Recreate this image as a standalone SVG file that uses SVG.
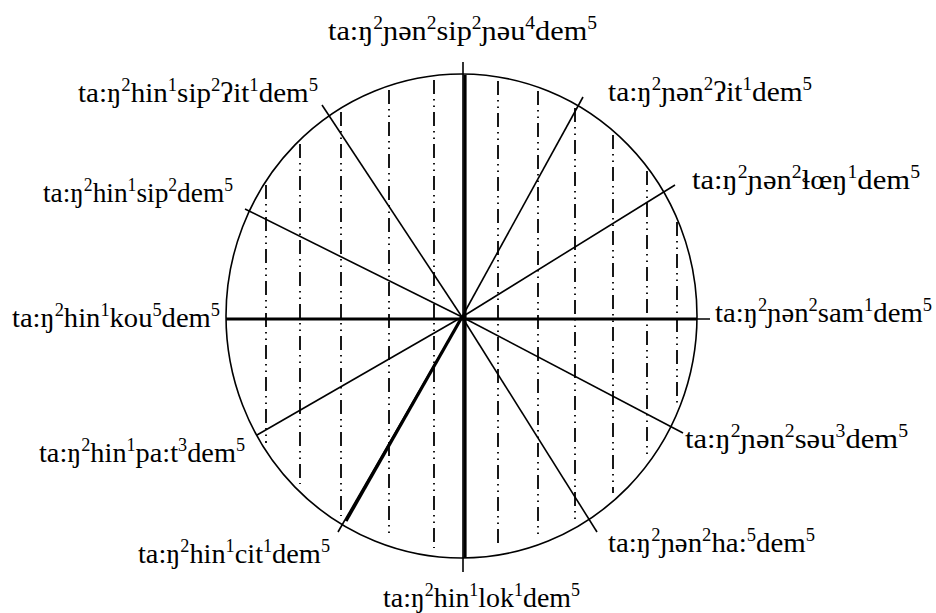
<svg xmlns="http://www.w3.org/2000/svg" width="936" height="613" viewBox="0 0 936 613">
<style>
.lbl{font-family:"Liberation Serif","Times New Roman","DejaVu Serif",serif;font-size:28px;fill:#000}
.s{font-size:18px}
.thin{stroke:#000;stroke-width:1.6;fill:none}
.thick{stroke:#000;stroke-width:3.2;fill:none}
.dd{stroke:#000;stroke-width:1.8;fill:none;stroke-dasharray:14 5 1.5 5 1.5 5}
</style>
<rect width="936" height="613" fill="#fff"/>
<g id="circle">
<ellipse cx="461.5" cy="316" rx="235.5" ry="242" class="thin"/>
</g>
<g id="guides">
<line x1="266" y1="185" x2="266" y2="443" class="dd"/>
<line x1="300" y1="144" x2="300" y2="484" class="dd"/>
<line x1="341" y1="112" x2="341" y2="516" class="dd"/>
<line x1="389" y1="90" x2="389" y2="538" class="dd"/>
<line x1="434" y1="80" x2="434" y2="548" class="dd"/>
<line x1="498" y1="81" x2="498" y2="547" class="dd"/>
<line x1="538" y1="91" x2="538" y2="537" class="dd"/>
<line x1="575" y1="108" x2="575" y2="520" class="dd"/>
<line x1="613" y1="135" x2="613" y2="493" class="dd"/>
<line x1="647" y1="171" x2="647" y2="457" class="dd"/>
<line x1="677" y1="222" x2="677" y2="404" class="dd"/>
</g>
<g id="connectors">
<line x1="463" y1="62" x2="463" y2="572" class="thin"/>
<line x1="465" y1="75" x2="465" y2="558" class="thick"/>
<line x1="226" y1="319" x2="710" y2="319" class="thin"/>
<line x1="226" y1="319" x2="697" y2="319" class="thick"/>
<line x1="462" y1="317" x2="322" y2="105" class="thin"/>
<line x1="462" y1="317" x2="583" y2="97" class="thin"/>
<line x1="462" y1="317" x2="675" y2="185" class="thin"/>
<line x1="462" y1="317" x2="245" y2="209" class="thin"/>
<line x1="462" y1="317" x2="257" y2="435" class="thin"/>
<line x1="462" y1="317" x2="683" y2="433" class="thin"/>
<line x1="462" y1="317" x2="338" y2="532" class="thin"/>
<line x1="462" y1="317" x2="346" y2="521" class="thick"/>
<line x1="462" y1="317" x2="597" y2="532" class="thin"/>
</g>
<g id="n-top"><text class="lbl" x="328" y="40" textLength="269" lengthAdjust="spacingAndGlyphs">ta:ŋ<tspan class="s" dy="-11">2</tspan><tspan dy="11">ɲən</tspan><tspan class="s" dy="-11">2</tspan><tspan dy="11">sip</tspan><tspan class="s" dy="-11">2</tspan><tspan dy="11">ɲəu</tspan><tspan class="s" dy="-11">4</tspan><tspan dy="11">dem</tspan><tspan class="s" dy="-11">5</tspan></text></g>
<g id="n-ul"><text class="lbl" x="78" y="102" textLength="240" lengthAdjust="spacingAndGlyphs">ta:ŋ<tspan class="s" dy="-11">2</tspan><tspan dy="11">hin</tspan><tspan class="s" dy="-11">1</tspan><tspan dy="11">sip</tspan><tspan class="s" dy="-11">2</tspan><tspan dy="11">ʔit</tspan><tspan class="s" dy="-11">1</tspan><tspan dy="11">dem</tspan><tspan class="s" dy="-11">5</tspan></text></g>
<g id="n-ur"><text class="lbl" x="608" y="101" textLength="204" lengthAdjust="spacingAndGlyphs">ta:ŋ<tspan class="s" dy="-11">2</tspan><tspan dy="11">ɲən</tspan><tspan class="s" dy="-11">2</tspan><tspan dy="11">ʔit</tspan><tspan class="s" dy="-11">1</tspan><tspan dy="11">dem</tspan><tspan class="s" dy="-11">5</tspan></text></g>
<g id="n-r1"><text class="lbl" x="692" y="189" textLength="228" lengthAdjust="spacingAndGlyphs">ta:ŋ<tspan class="s" dy="-11">2</tspan><tspan dy="11">ɲən</tspan><tspan class="s" dy="-11">2</tspan><tspan dy="11">ɬœŋ</tspan><tspan class="s" dy="-11">1</tspan><tspan dy="11">dem</tspan><tspan class="s" dy="-11">5</tspan></text></g>
<g id="n-l1"><text class="lbl" x="43" y="202" textLength="190" lengthAdjust="spacingAndGlyphs">ta:ŋ<tspan class="s" dy="-11">2</tspan><tspan dy="11">hin</tspan><tspan class="s" dy="-11">1</tspan><tspan dy="11">sip</tspan><tspan class="s" dy="-11">2</tspan><tspan dy="11">dem</tspan><tspan class="s" dy="-11">5</tspan></text></g>
<g id="n-left"><text class="lbl" x="12" y="327" textLength="208" lengthAdjust="spacingAndGlyphs">ta:ŋ<tspan class="s" dy="-11">2</tspan><tspan dy="11">hin</tspan><tspan class="s" dy="-11">1</tspan><tspan dy="11">kou</tspan><tspan class="s" dy="-11">5</tspan><tspan dy="11">dem</tspan><tspan class="s" dy="-11">5</tspan></text></g>
<g id="n-right"><text class="lbl" x="715" y="322" textLength="217" lengthAdjust="spacingAndGlyphs">ta:ŋ<tspan class="s" dy="-11">2</tspan><tspan dy="11">ɲən</tspan><tspan class="s" dy="-11">2</tspan><tspan dy="11">sam</tspan><tspan class="s" dy="-11">1</tspan><tspan dy="11">dem</tspan><tspan class="s" dy="-11">5</tspan></text></g>
<g id="n-l2"><text class="lbl" x="39" y="462" textLength="206" lengthAdjust="spacingAndGlyphs">ta:ŋ<tspan class="s" dy="-11">2</tspan><tspan dy="11">hin</tspan><tspan class="s" dy="-11">1</tspan><tspan dy="11">pa:t</tspan><tspan class="s" dy="-11">3</tspan><tspan dy="11">dem</tspan><tspan class="s" dy="-11">5</tspan></text></g>
<g id="n-r2"><text class="lbl" x="685" y="448" textLength="223" lengthAdjust="spacingAndGlyphs">ta:ŋ<tspan class="s" dy="-11">2</tspan><tspan dy="11">ɲən</tspan><tspan class="s" dy="-11">2</tspan><tspan dy="11">səu</tspan><tspan class="s" dy="-11">3</tspan><tspan dy="11">dem</tspan><tspan class="s" dy="-11">5</tspan></text></g>
<g id="n-ll"><text class="lbl" x="138" y="563" textLength="192" lengthAdjust="spacingAndGlyphs">ta:ŋ<tspan class="s" dy="-11">2</tspan><tspan dy="11">hin</tspan><tspan class="s" dy="-11">1</tspan><tspan dy="11">cit</tspan><tspan class="s" dy="-11">1</tspan><tspan dy="11">dem</tspan><tspan class="s" dy="-11">5</tspan></text></g>
<g id="n-lr"><text class="lbl" x="608" y="552" textLength="207" lengthAdjust="spacingAndGlyphs">ta:ŋ<tspan class="s" dy="-11">2</tspan><tspan dy="11">ɲən</tspan><tspan class="s" dy="-11">2</tspan><tspan dy="11">ha:</tspan><tspan class="s" dy="-11">5</tspan><tspan dy="11">dem</tspan><tspan class="s" dy="-11">5</tspan></text></g>
<g id="n-bottom"><text class="lbl" x="383" y="607" textLength="197" lengthAdjust="spacingAndGlyphs">ta:ŋ<tspan class="s" dy="-11">2</tspan><tspan dy="11">hin</tspan><tspan class="s" dy="-11">1</tspan><tspan dy="11">lok</tspan><tspan class="s" dy="-11">1</tspan><tspan dy="11">dem</tspan><tspan class="s" dy="-11">5</tspan></text></g>
</svg>
